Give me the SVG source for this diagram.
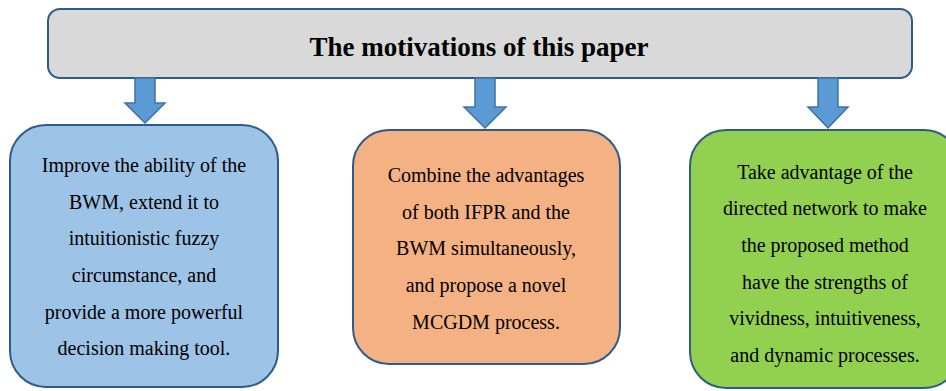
<svg xmlns="http://www.w3.org/2000/svg" width="946" height="391" viewBox="0 0 946 391">
<style>
.box{stroke:#2e5c8a;stroke-width:2}
.arrow{fill:#5b9bd5;stroke:#41719c;stroke-width:1.5;stroke-linejoin:miter}
.t{font-family:"Liberation Serif","Times New Roman",serif;font-size:20px;fill:#000;text-anchor:middle}
.title{font-family:"Liberation Serif","Times New Roman",serif;font-size:27px;font-weight:bold;fill:#000;text-anchor:middle}
</style>
<rect width="946" height="391" fill="#ffffff"/>
<g id="top">
<rect class="box" x="48" y="9" width="864" height="69" rx="12" fill="#d9d9d9"/>
<text class="title" x="479" y="56">The motivations of this paper</text>
</g>
<g id="connectors">
<polygon class="arrow" points="135,78 155,78 155,103 165,103 145,123 125,103 135,103"/>
<polygon class="arrow" points="475,78 495,78 495,107 506,107 485,128 464,107 475,107"/>
<polygon class="arrow" points="818,78 838,78 838,107 848,107 828,128 808,107 818,107"/>
</g>
<g id="box1">
<rect class="box" x="10" y="125" width="268" height="262" rx="36" fill="#9dc3e6"/>
<text class="t" x="144" y="172">Improve the ability of the</text>
<text class="t" x="144" y="209">BWM, extend it to</text>
<text class="t" x="144" y="245">intuitionistic fuzzy</text>
<text class="t" x="144" y="282">circumstance, and</text>
<text class="t" x="144" y="319">provide a more powerful</text>
<text class="t" x="144" y="355">decision making tool.</text>
</g>
<g id="box2">
<rect class="box" x="353" y="130" width="267" height="234" rx="36" fill="#f4b183"/>
<text class="t" x="486" y="182">Combine the advantages</text>
<text class="t" x="486" y="219">of both IFPR and the</text>
<text class="t" x="486" y="255">BWM simultaneously,</text>
<text class="t" x="486" y="292">and propose a novel</text>
<text class="t" x="486" y="329">MCGDM process.</text>
</g>
<g id="box3">
<rect class="box" x="690" y="130" width="270" height="258" rx="36" fill="#92d050"/>
<text class="t" x="825" y="179">Take advantage of the</text>
<text class="t" x="825" y="215">directed network to make</text>
<text class="t" x="825" y="252">the proposed method</text>
<text class="t" x="825" y="289">have the strengths of</text>
<text class="t" x="825" y="325">vividness, intuitiveness,</text>
<text class="t" x="825" y="362">and dynamic processes.</text>
</g>
</svg>
